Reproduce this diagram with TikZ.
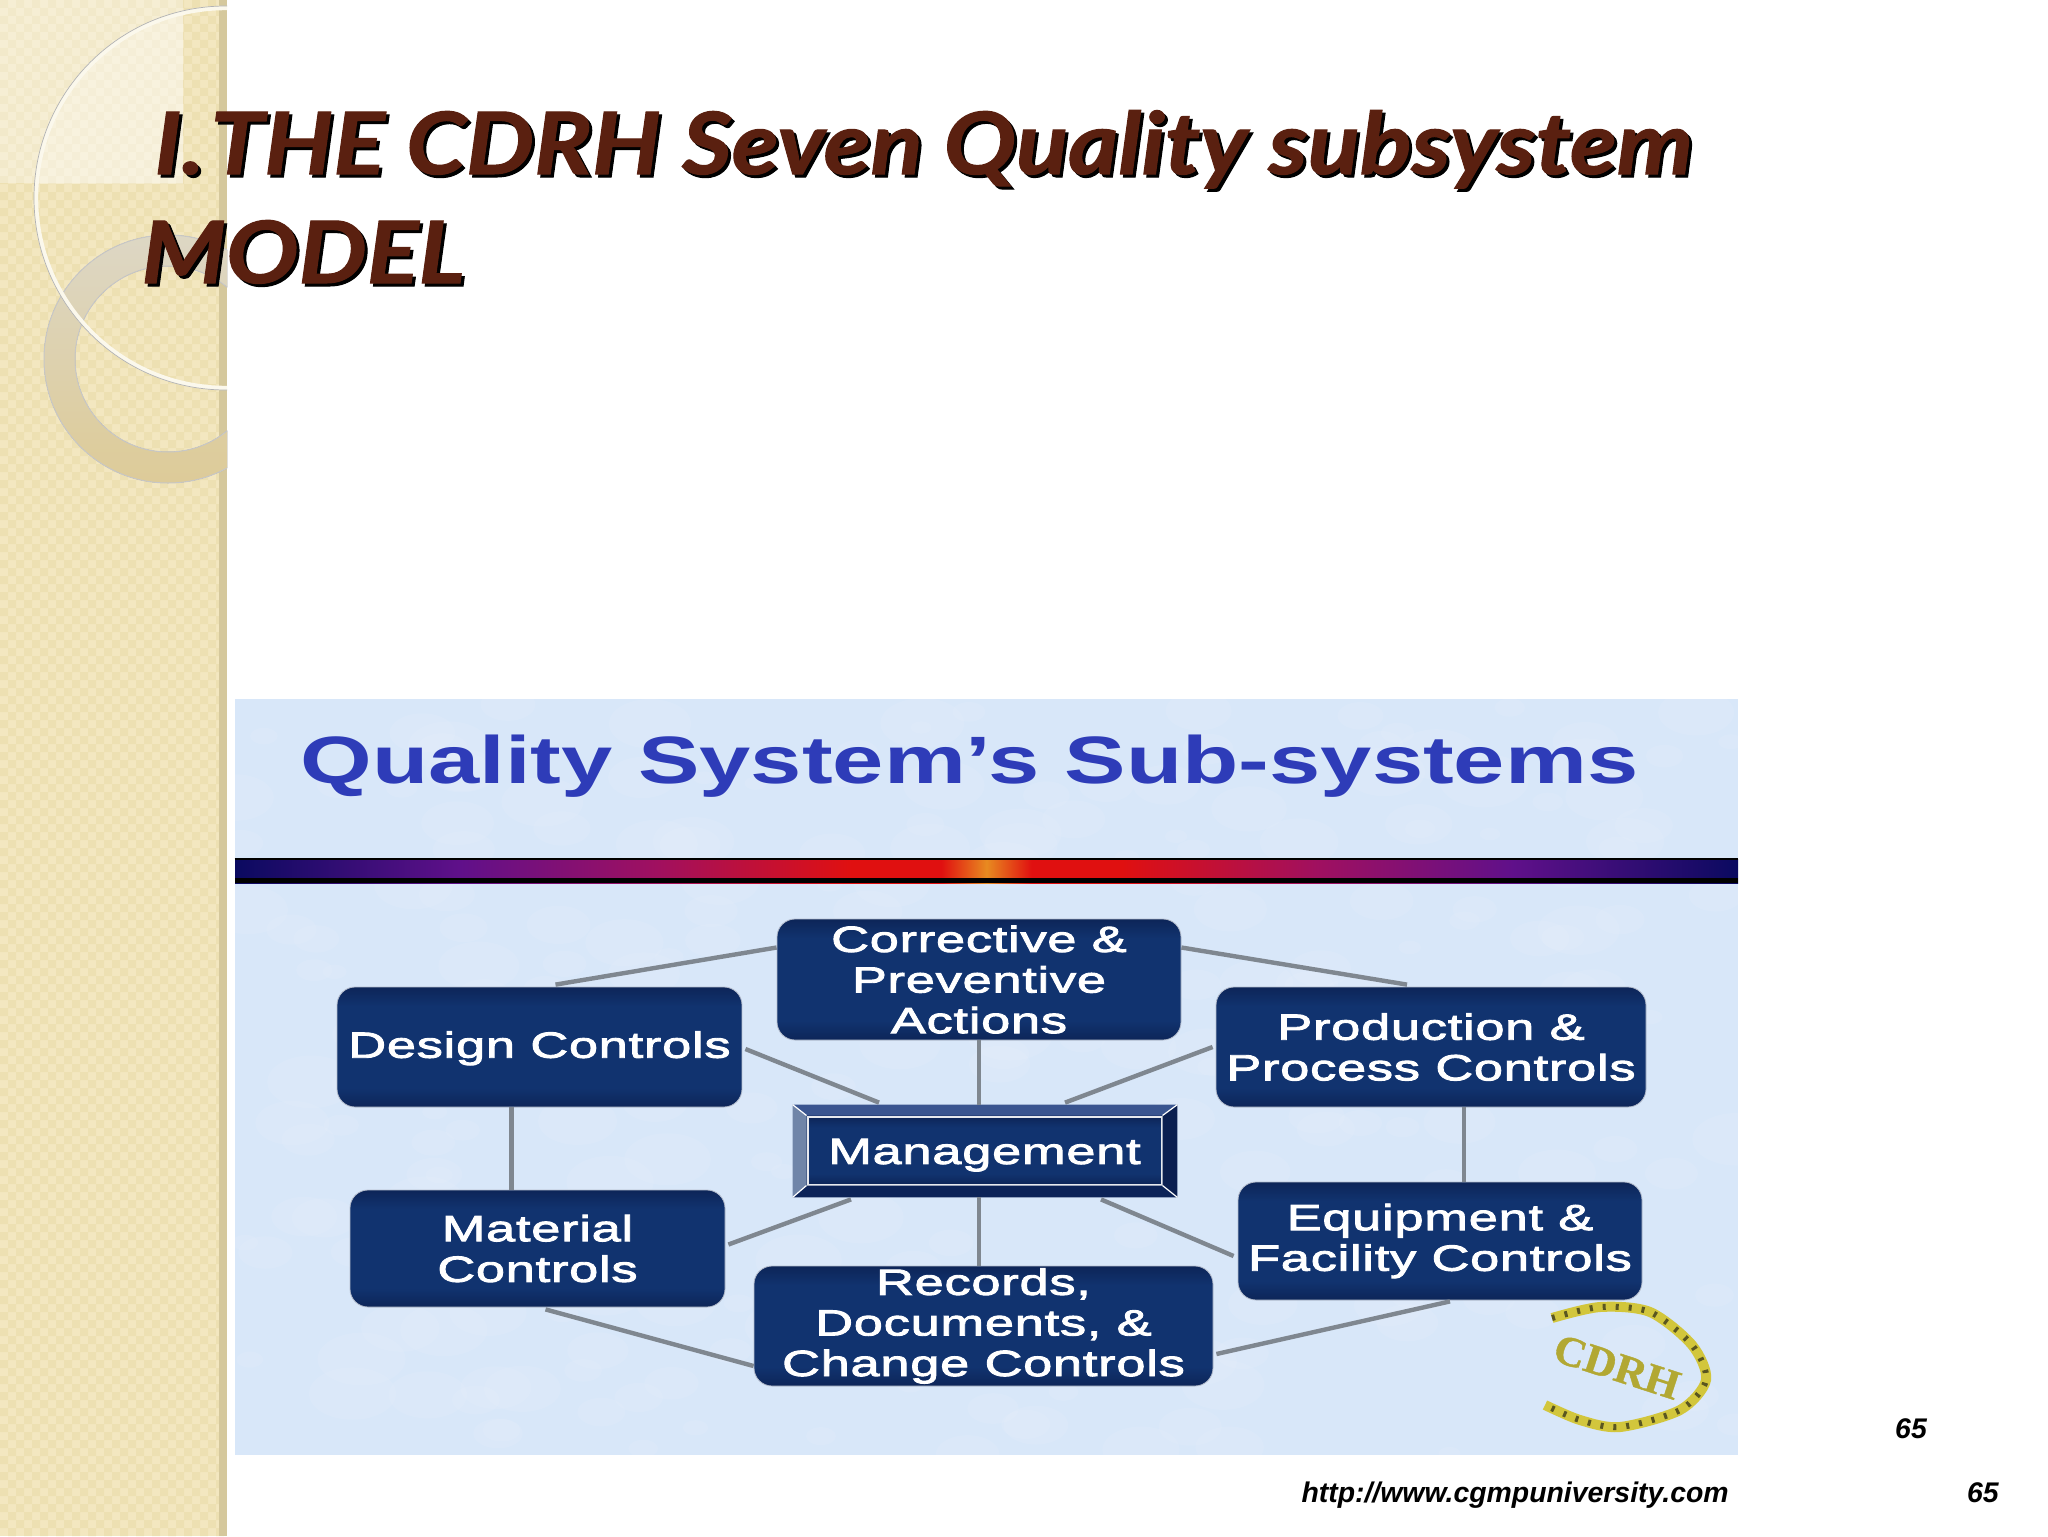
\documentclass[tikz,border=0pt]{standalone}
\usepackage{fontspec}
\usetikzlibrary{calc,shadings}
\setmainfont{Liberation Sans}
\newfontfamily\titlefont[FakeStretch=1.12,FakeBold=1.2]{Lato}
\newfontfamily\boxfont[FakeStretch=1.44,LetterSpace=2,FakeBold=2.5]{Liberation Sans}
\newfontfamily\headfont[FakeStretch=1.375]{Liberation Sans}
\newfontfamily\logofont[FakeStretch=1.05,FakeBold=1]{Liberation Serif}
\definecolor{sand}{HTML}{F3E7C0}
\definecolor{sanddot}{HTML}{EDE0B2}
\definecolor{sandstrip}{HTML}{D5C89C}
\definecolor{paper}{HTML}{D8E7F9}
\definecolor{navyA}{HTML}{0D2558}
\definecolor{navyB}{HTML}{11336F}
\definecolor{brownT}{HTML}{5A2010}
\definecolor{headblue}{HTML}{2E3CB8}
\definecolor{linkgrey}{HTML}{7F8790}
\definecolor{gold}{HTML}{D2C63C}
\definecolor{golddark}{HTML}{5A5620}
\definecolor{bevelT}{HTML}{3A5590}
\definecolor{bevelL}{HTML}{7085A8}
\definecolor{bevelR}{HTML}{0B1F50}
\definecolor{bevelB}{HTML}{0C2358}
\definecolor{barN}{HTML}{0A0A60}
\definecolor{barV}{HTML}{60108A}
\definecolor{barP}{HTML}{A01060}
\definecolor{barR}{HTML}{E01010}
\definecolor{barO}{HTML}{E88A20}
\definecolor{ringT}{HTML}{E9E2CF}
\definecolor{ringB}{HTML}{E9D6A0}
\pgfdeclareverticalshading{navyfill}{100bp}{color(0bp)=(navyA); color(25bp)=(navyA); color(33bp)=(navyB); color(67bp)=(navyB); color(75bp)=(navyA); color(100bp)=(navyA)}
\pgfdeclarehorizontalshading{barglow}{100bp}{color(0bp)=(barN); color(25bp)=(barN); color(32.5bp)=(barV); color(39bp)=(barP); color(45.5bp)=(barR); color(48.5bp)=(barR); color(50bp)=(barO); color(51.5bp)=(barR); color(54.5bp)=(barR); color(61bp)=(barP); color(67.5bp)=(barV); color(75bp)=(barN); color(100bp)=(barN)}
\tikzset{
  x=0.5pt,y=-0.5pt,
  subsys/.style={rounded corners=9pt,shading=navyfill,draw=white!70!navyA,line width=.4pt,inner sep=0pt,
     text=white,align=center,font=\boxfont\fontsize{18.2}{20.3}\selectfont},
  link/.style={draw=linkgrey,line width=2.2pt},
  titletext/.style={anchor=base west,inner sep=0pt,font=\titlefont\bfseries\itshape\fontsize{43}{43}\selectfont},
  foot/.style={inner sep=0pt,font=\bfseries\itshape\fontsize{14.2}{14.2}\selectfont,text=black},
}
\begin{document}
\begin{tikzpicture}
\useasboundingbox (0,0) rectangle (2048,1536);
\fill[white] (0,0) rectangle (2048,1536);
% sidebar
\fill[sand] (0,0) rectangle (227,1536);
\fill[sanddot]
  foreach \i in {0,2,...,26}{ foreach \j in {0,2,...,190}{ (\i*8,\j*8) rectangle ++(8,8) }}
  foreach \i in {1,3,...,27}{ foreach \j in {1,3,...,191}{ (\i*8,\j*8) rectangle ++(8,8) }};
\fill[sandstrip] (219,0) rectangle (227,1536);
\begin{scope}
\clip (0,0) rectangle (227,1536);
\fill[white,opacity=.32] (0,0) rectangle (183,183);
\begin{scope}
\clip (0,0) rectangle (183,183);
\fill[white,opacity=.25] (226,198) circle[radius=190];
\end{scope}
\fill[even odd rule,top color=ringT,bottom color=ringB,opacity=.95]
   (168,359) circle[radius=124] (168,359) circle[radius=93];
\draw[black!22,line width=.5pt] (168,359) circle[radius=124];
\draw[black!22,line width=.5pt] (168,359) circle[radius=93];
\draw[white!70!sand,line width=2.2pt] (226,198) circle[radius=190];
\draw[black!30,line width=.35pt] (226,198) circle[radius=192];
\end{scope}
% picture panel
\fill[paper] (235,699) rectangle (1738,1455);
\begin{scope}
\clip (235,699) rectangle (1738,1455);
\pgfmathsetseed{7}
\foreach \k in {1,...,260}{
  \pgfmathsetmacro{\px}{235+1503*rnd}\pgfmathsetmacro{\py}{699+756*rnd}
  \pgfmathsetmacro{\pr}{10+35*rnd}
  \fill[white,opacity=.08] (\px,\py) ellipse[x radius=\pr,y radius=\pr*.6];
}
\end{scope}
\node[anchor=base west,inner sep=0pt,text=headblue,font=\headfont\bfseries\fontsize{33.5}{34}\selectfont] (head) at (300,783) {Quality System’s Sub-systems};
\node[inner sep=0pt,minimum width=751.5pt,minimum height=12pt,shading=barglow] (bar) at (986.5,871) {};
\draw[black,line width=1pt] (bar.north west) -- (bar.north east);
\fill[black] ([yshift=2.5pt]bar.south west) rectangle (bar.south east);
% boxes
\node[subsys,minimum width=202pt,minimum height=60.5pt] (corr) at (979,979.5) {Corrective \&\\Preventive\\Actions};
\node[subsys,minimum width=202.5pt,minimum height=60pt] (design) at (539.5,1047) {\rule{0pt}{14.5pt}Design Controls};
\node[subsys,minimum width=215pt,minimum height=60pt] (prod) at (1431,1047) {Production \&\\Process Controls};
\node[subsys,minimum width=187.5pt,minimum height=58.5pt] (matl) at (537.5,1248.5) {Material\\Controls};
\node[subsys,minimum width=202pt,minimum height=59pt] (equip) at (1440,1241) {Equipment \&\\Facility Controls};
\node[subsys,minimum width=229.5pt,minimum height=60pt] (recs) at (983.5,1326) {Records,\\Documents, \&\\Change Controls};
% management
\node[inner sep=0pt,minimum width=192pt,minimum height=46pt,fill=navyA] (mgmt) at (985,1151) {};
\node[draw=white!90!navyA,line width=1pt,inner sep=0pt,minimum width=177pt,minimum height=34pt,shading=navyfill,text=white,font=\boxfont\fontsize{18.2}{20.2}\selectfont] (mgmtin) at (984.5,1150.5) {\rule{0pt}{17.2pt}Management\hspace{6.2pt}};
\fill[bevelT] (mgmt.north west) -- (mgmt.north east) -- (mgmtin.north east) -- (mgmtin.north west) -- cycle;
\fill[bevelL] (mgmt.north west) -- (mgmt.south west) -- (mgmtin.south west) -- (mgmtin.north west) -- cycle;
\fill[bevelR] (mgmt.north east) -- (mgmt.south east) -- (mgmtin.south east) -- (mgmtin.north east) -- cycle;
\fill[bevelB] (mgmt.south west) -- (mgmt.south east) -- (mgmtin.south east) -- (mgmtin.south west) -- cycle;
\draw[white,line width=.6pt] (mgmt.north west) -- (mgmtin.north west) (mgmt.north east) -- (mgmtin.north east) (mgmt.south west) -- (mgmtin.south west) (mgmt.south east) -- (mgmtin.south east);
% connectors
\draw[link] ([yshift=16pt]corr.west) -- ([xshift=8pt,yshift=1pt]design.north);
\draw[link] ([yshift=16pt]corr.east) -- ([xshift=-12pt,yshift=1pt]prod.north);
\draw[link] ([xshift=1.5pt,yshift=-1pt]design.east) -- ([xshift=-53pt,yshift=1pt]mgmt.north);
\draw[link] ([xshift=-1.5pt,yshift=0pt]prod.west) -- ([xshift=40pt,yshift=1pt]mgmt.north);
\draw[link] (corr.south) -- (corr.south |- mgmt.north);
\draw[link] ([xshift=-14pt]design.south) -- ([xshift=-13pt]matl.north);
\draw[link] ([xshift=16.5pt]prod.south) -- ([xshift=12pt]equip.north);
\draw[link] ([xshift=1.5pt,yshift=2pt]matl.east) -- ([xshift=-67pt,yshift=-1pt]mgmt.south);
\draw[link] (corr.south |- mgmt.south) -- (corr.south |- recs.north);
\draw[link] ([xshift=58pt,yshift=-1pt]mgmt.south) -- ([xshift=-2pt,yshift=-7.5pt]equip.west);
\draw[link] ([xshift=4pt,yshift=-1pt]matl.south) -- ([yshift=-20pt]recs.west);
\draw[link] ([xshift=1.5pt,yshift=-14pt]recs.east) -- ([xshift=5pt,yshift=-.5pt]equip.south);
% logo
\node[inner sep=0pt,rotate=-18,text=gold!85!black,font=\logofont\bfseries\fontsize{21}{21}\selectfont] (cdrh) at (1617,1367) {CDRH};
\draw[gold,line width=5pt] plot[smooth] coordinates {(1552,1318) (1600,1307) (1650,1312) (1692,1345) (1706,1380) (1680,1410) (1620,1427) (1580,1420) (1545,1405)};
\draw[golddark,line width=3pt,dash pattern=on 1.5pt off 5pt] plot[smooth] coordinates {(1552,1318) (1600,1307) (1650,1312) (1692,1345) (1706,1380) (1680,1410) (1620,1427) (1580,1420) (1545,1405)};
% title
\node[titletext,text=black] (tshadow1) at (157,177) {I.\hspace{3pt}THE CDRH Seven Quality subsystem};
\node[titletext,text=black] (tshadow2) at (144,286) {MODEL};
\node[titletext,text=brownT] (t1) at (154,174) {I.\hspace{3pt}THE CDRH Seven Quality subsystem};
\node[titletext,text=brownT] (t2) at (141,283) {MODEL};
% footers
\node[foot,anchor=center] (pgA) at (1911,1429) {65};
\node[foot,anchor=base east] (url) at (1729,1502) {http://www.cgmpuniversity.com};
\node[foot,anchor=base east] (pgB) at (1999,1502) {65};
\end{tikzpicture}
\end{document}
